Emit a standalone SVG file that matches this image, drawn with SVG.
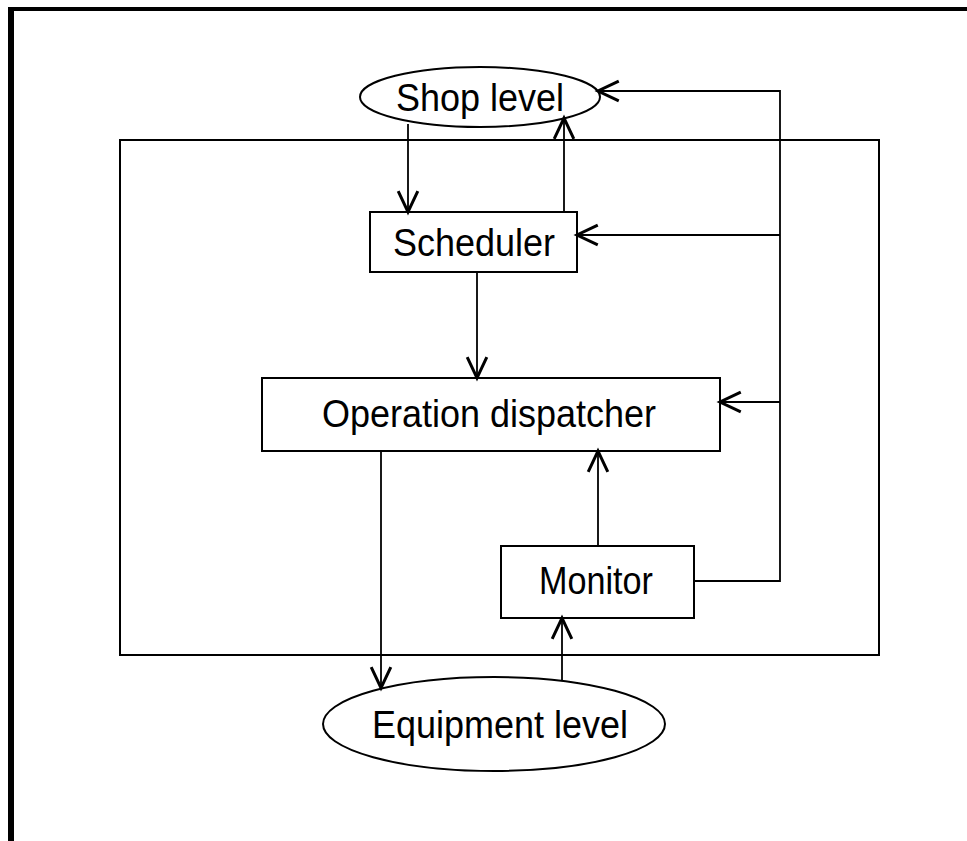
<svg xmlns="http://www.w3.org/2000/svg" width="967" height="841" viewBox="0 0 967 841">
  <style>
    .shape { fill: none; stroke: #000; stroke-width: 2; }
    .wire { fill: none; stroke: #000; stroke-width: 1.8; }
    .label { font-family: "Liberation Sans", Arial, sans-serif; font-size: 36px; fill: #000; text-anchor: middle; }
  </style>
  <defs>
    <marker id="arrow" markerUnits="userSpaceOnUse" markerWidth="30" markerHeight="30" viewBox="-22 -12 26 24" refX="0" refY="0" orient="auto">
      <path d="M -18 -8.5 L 0 0 L -18 8.5" fill="none" stroke="#000" stroke-width="2.6" stroke-linejoin="miter"/>
    </marker>
  </defs>

  <rect x="0" y="0" width="967" height="841" fill="#fff"/>

  <!-- page frame -->
  <g id="page-frame">
    <line x1="8" y1="9" x2="967" y2="9" stroke="#000" stroke-width="4"/>
    <line x1="11" y1="7" x2="11" y2="841" stroke="#000" stroke-width="6"/>
  </g>

  <!-- control system boundary -->
  <g id="boundary">
    <rect class="shape" x="120" y="140" width="759" height="515"/>
  </g>

  <g id="shop-level">
    <ellipse class="shape" cx="480" cy="97" rx="120" ry="30"/>
    <text class="label" transform="translate(480,111) scale(1,1.08)">Shop level</text>
  </g>

  <g id="scheduler">
    <rect class="shape" x="370" y="212" width="207" height="60"/>
    <text class="label" transform="translate(474,256) scale(1,1.08)">Scheduler</text>
  </g>

  <g id="dispatcher">
    <rect class="shape" x="262" y="378" width="458" height="73"/>
    <text class="label" transform="translate(489,427) scale(1,1.08)">Operation dispatcher</text>
  </g>

  <g id="monitor">
    <rect class="shape" x="501" y="546" width="193" height="72"/>
    <text class="label" transform="translate(596,594) scale(1,1.08)" textLength="114" lengthAdjust="spacingAndGlyphs">Monitor</text>
  </g>

  <g id="equipment-level">
    <ellipse class="shape" cx="494" cy="724" rx="171" ry="47"/>
    <text class="label" transform="translate(500,738) scale(1,1.08)">Equipment level</text>
  </g>

  <g id="connectors">
    <path class="wire" d="M408,124 V212" marker-end="url(#arrow)"/>
    <path class="wire" d="M564,212 V118" marker-end="url(#arrow)"/>
    <path class="wire" d="M477,272 V378" marker-end="url(#arrow)"/>
    <path class="wire" d="M381,451 V688" marker-end="url(#arrow)"/>
    <path class="wire" d="M562,680 V618" marker-end="url(#arrow)"/>
    <path class="wire" d="M598,546 V451" marker-end="url(#arrow)"/>
    <path class="wire" d="M694,581 H780 V91 H598" marker-end="url(#arrow)"/>
    <path class="wire" d="M780,235 H577" marker-end="url(#arrow)"/>
    <path class="wire" d="M780,402 H720" marker-end="url(#arrow)"/>
  </g>
</svg>
